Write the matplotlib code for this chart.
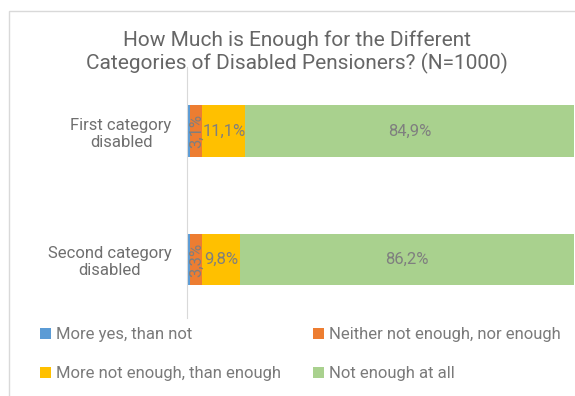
import numpy as np
import matplotlib.pyplot as plt
from matplotlib.patches import Rectangle

plt.rcParams['font.family'] = ['Roboto', 'DejaVu Sans']

categories = ['First category\ndisabled', 'Second category\ndisabled']
series = ['More yes, than not', 'Neither not enough, nor enough',
          'More not enough, than enough', 'Not enough at all']
more_yes = [0.9, 0.7]
neither = [3.1, 3.3]
more_not = [11.1, 9.8]
not_at_all = [84.9, 86.2]
values = [more_yes, neither, more_not, not_at_all]
colors = ['#5B9BD5', '#ED7D31', '#FFC000', '#A9D18E']
show_label = [False, True, True, True]

W, H = 575, 396
fig = plt.figure(figsize=(W / 100, H / 100), dpi=100)

# chart frame
fig.patches.append(Rectangle((9 / W, -0.1), 1.0, (H - 11) / H + 0.1,
                             transform=fig.transFigure, fill=False,
                             edgecolor='#d9d9d9', linewidth=1))

ax = fig.add_axes([187 / W, 1 - 318 / H, (573.5 - 187) / W, (318 - 67) / H])

y = np.arange(len(categories))
left = np.zeros(len(categories))
for vals, col, name, lab in zip(values, colors, series, show_label):
    vals = np.array(vals)
    ax.barh(y, vals, left=left, height=0.40, color=col, label=name)
    if lab:
        for yi, v, l in zip(y, vals, left):
            txt = f'{v:.1f}%'.replace('.', ',')
            rot = 90 if v < 5 else 0
            ax.text(l + v / 2, yi, txt, ha='center', va='center',
                    rotation=rot, color='#7f7f7f', fontsize=12)
    left += vals

ax.set_xlim(0, 100)
ax.set_ylim(1.455, -0.498)
ax.set_yticks(y)
ax.set_yticklabels(categories, fontsize=12, color='#6f6f6f',
                   multialignment='center')
ax.tick_params(axis='y', length=0, pad=11)
ax.set_xticks([])
for s in ['top', 'right', 'bottom']:
    ax.spines[s].set_visible(False)
ax.spines['left'].set_color('#d9d9d9')

fig.text(297 / W, 1 - 52 / H,
         'How Much is Enough for the Different\nCategories of Disabled Pensioners? (N=1000)',
         ha='center', va='center', fontsize=15, color='#666666', linespacing=1.2)

# legend filled row by row
handles, labels = ax.get_legend_handles_labels()
order = [0, 2, 1, 3]
fig.legend([handles[i] for i in order], [labels[i] for i in order],
           ncol=2, loc='upper left',
           bbox_to_anchor=(25 / W, 1 - 312 / H), frameon=False,
           fontsize=12, labelcolor='#7a7a7a', handlelength=0.65,
           handleheight=0.65, handletextpad=0.3, columnspacing=1.95,
           labelspacing=1.45)

fig.savefig('out.png', dpi=100)
